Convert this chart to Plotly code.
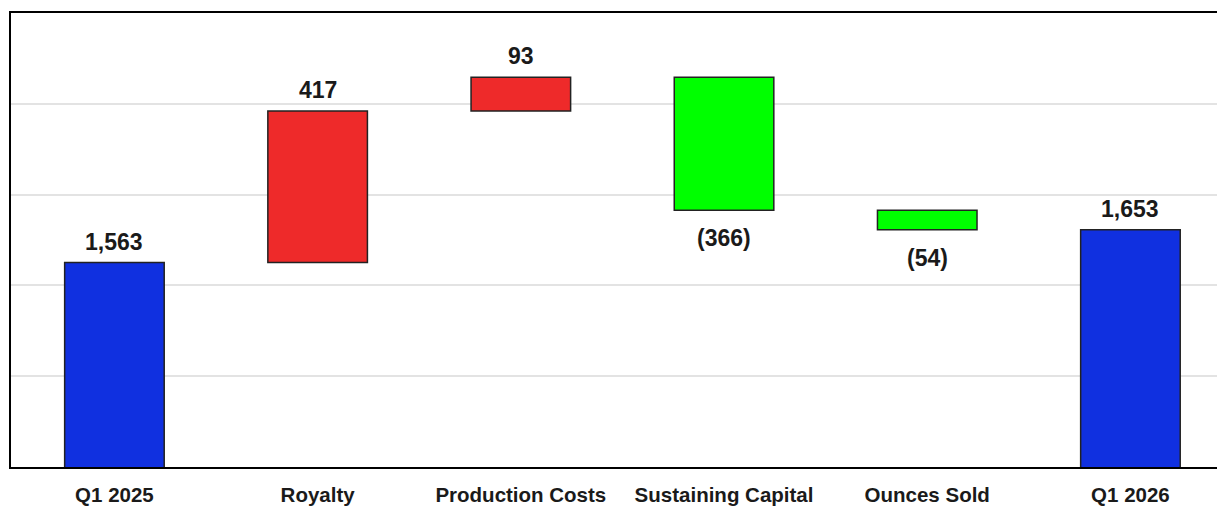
import plotly.graph_objects as go

categories = ["Q1 2025", "Royalty", "Production Costs", "Sustaining Capital", "Ounces Sold", "Q1 2026"]
values = [1563, 417, 93, -366, -54, 1653]
measures = ["absolute", "relative", "relative", "relative", "relative", "total"]
labels = ["1,563", "417", "93", "(366)", "(54)", "1,653"]

FONT = "Liberation Sans, Arial"

fig = go.Figure(go.Waterfall(
    x=categories,
    y=values,
    measure=measures,
    textinfo="none",
    increasing=dict(marker=dict(color="#EE2A2A", line=dict(color="#222222", width=1.5))),
    decreasing=dict(marker=dict(color="#00FF00", line=dict(color="#222222", width=1.5))),
    totals=dict(marker=dict(color="#1030E0", line=dict(color="#222222", width=1.5))),
    connector=dict(visible=False),
    width=0.49,
))

# value labels placed at each bar's end
running = 0
for cat, val, meas, lab in zip(categories, values, measures, labels):
    if meas == "absolute":
        running = val
    elif meas == "relative":
        running += val
    end = running
    below = meas == "relative" and val < 0
    fig.add_annotation(
        x=cat, y=end, text=lab, showarrow=False,
        yanchor="top" if below else "bottom",
        yshift=-13 if below else 6,
        font=dict(family=FONT, size=23, color="#1a1a1a", weight="bold"),
    )

fig.update_layout(
    width=1217, height=506,
    margin=dict(l=11, r=0, t=13, b=39),
    paper_bgcolor="white", plot_bgcolor="white",
    showlegend=False,
    font=dict(family=FONT, color="#1a1a1a"),
    xaxis=dict(
        range=[-0.509, 5.426],
        showline=True, linecolor="black", linewidth=2, mirror=True,
        showgrid=False,
        tickfont=dict(size=20.5, family=FONT, weight="bold"),
        ticks="outside", ticklen=8, tickcolor="rgba(0,0,0,0)",
    ),
    yaxis=dict(
        range=[1000, 2250],
        tickvals=[1250, 1500, 1750, 2000],
        showticklabels=False,
        showgrid=True, gridcolor="#E3E3E3", gridwidth=2,
        showline=True, linecolor="black", linewidth=2,
        zeroline=False,
    ),
)

fig.write_html("out.html")
